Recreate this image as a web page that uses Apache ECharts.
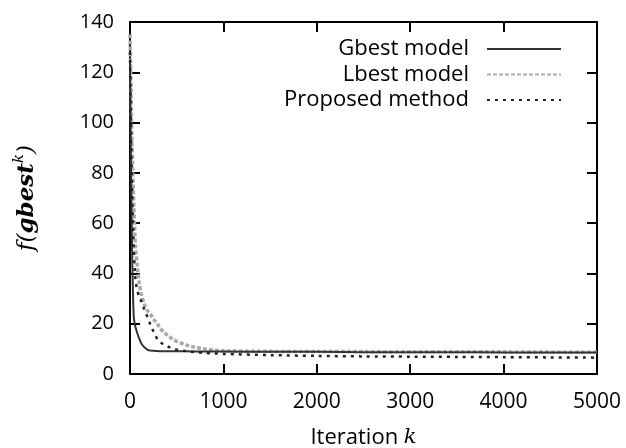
<!DOCTYPE html>
<html><head><meta charset="utf-8">
<script src="https://cdn.jsdelivr.net/npm/echarts@6/dist/echarts.min.js"></script>
<style>html,body{margin:0;padding:0;background:#fff}#c{width:626px;height:448px}</style>
</head><body><div id="c"></div>
<script>
const iterations = [0, 10, 20, 30, 40, 50, 60, 80, 100, 120, 150, 190, 225, 250, 300, 350, 400, 450, 500, 600, 700, 800, 900, 1000, 1500, 2000, 2500, 3000, 3500, 4000, 4500, 5000];
const gbest =    [125, 85, 55, 35, 23, 20, 18.5, 16, 14, 12.2, 10.8, 9.6, 9.3, 9.2, 9.1, 9.0, 9.0, 9.0, 9.0, 9.0, 8.9, 8.9, 8.9, 8.9, 8.8, 8.8, 8.7, 8.7, 8.7, 8.6, 8.6, 8.6];
const lbest =    [135, 115, 95, 80, 68, 58, 50, 42, 36, 32, 28, 25, 23.5, 22, 19.5, 17, 15.5, 14, 13, 11.6, 10.6, 10, 9.5, 9.2, 9.0, 8.9, 8.9, 8.8, 8.8, 8.8, 8.7, 8.7];
const proposed = [128, 100, 78, 62, 50, 42, 37, 33, 30.5, 29, 26, 22.3, 19, 17, 13.5, 12, 11, 10.2, 9.7, 9.1, 8.7, 8.4, 8.2, 8.0, 7.5, 7.2, 7.0, 6.9, 6.8, 6.7, 6.6, 6.5];
const seriesNames = ['Gbest model', 'Lbest model', 'Proposed method'];
const xTicks = [0, 1000, 2000, 3000, 4000, 5000];
const yTicks = [0, 20, 40, 60, 80, 100, 120, 140];

const pairs = arr => iterations.map((x, i) => [x, arr[i]]);
const font = 'Open Sans';
const chart = echarts.init(document.getElementById('c'));
const axisCommon = () => ({
  axisLine: {show: true, onZero: false, lineStyle: {color: '#000', width: 2}},
  axisTick: {show: true, inside: true, length: 10, lineStyle: {color: '#000', width: 2}},
  splitLine: {show: false}
});
chart.setOption({
  animation: false,
  grid: {left: 130, right: 29, top: 22, bottom: 74, outerBoundsMode: 'none', containLabel: false},
  legend: {
    orient: 'vertical', right: 59, top: 33, align: 'right',
    itemWidth: 74, itemHeight: 10, itemGap: 3.5,
    itemStyle: {opacity: 0},
    textStyle: {fontFamily: font, fontSize: 22, lineHeight: 22, color: '#000', padding: [0, 13, 0, 0]},
    data: seriesNames
  },
  xAxis: [
    Object.assign({type: 'value', min: 0, max: 5000, interval: 1000, position: 'bottom',
      name: 'Iteration {i|k}', nameLocation: 'middle', nameGap: 53,
      nameTextStyle: {fontFamily: font, fontSize: 22, color: '#000',
        rich: {i: {fontFamily: 'DejaVu Serif', fontStyle: 'italic', fontSize: 21, color: '#000'}}},
      axisLabel: {fontFamily: font, fontSize: 21, color: '#000', margin: 18,
        formatter: v => xTicks.includes(v) ? String(v) : ''}}, axisCommon()),
    Object.assign({type: 'value', min: 0, max: 5000, interval: 1000, position: 'top',
      axisLabel: {show: false}}, axisCommon())
  ],
  yAxis: [
    Object.assign({type: 'value', min: 0, max: 140, interval: 20, position: 'left',
      name: '{f|f(}{b|gbest}{s|k}{f|)}', nameLocation: 'middle', nameGap: 88, nameRotate: 90,
      nameTextStyle: {color: '#000', rich: {
        f: {fontFamily: 'DejaVu Serif', fontStyle: 'italic', fontSize: 23, color: '#000', lineHeight: 30},
        b: {fontFamily: 'DejaVu Serif', fontStyle: 'italic', fontWeight: 'bold', fontSize: 23, color: '#000', lineHeight: 30},
        s: {fontFamily: 'DejaVu Serif', fontStyle: 'italic', fontSize: 15, color: '#000', verticalAlign: 'top', lineHeight: 30}
      }},
      axisLabel: {fontFamily: font, fontSize: 20, color: '#000', margin: 16,
        formatter: v => yTicks.includes(v) ? String(v) : ''}}, axisCommon()),
    Object.assign({type: 'value', min: 0, max: 140, interval: 20, position: 'right',
      axisLabel: {show: false}}, axisCommon())
  ],
  series: [
    {name: seriesNames[0], type: 'line', symbol: 'none', smooth: 0.3, z: 4,
      lineStyle: {color: '#333', width: 2, type: 'solid'}, itemStyle: {color: '#333'}, data: pairs(gbest)},
    {name: seriesNames[1], type: 'line', symbol: 'none', smooth: 0.3, z: 3,
      lineStyle: {color: '#aaa', width: 3.5, type: [4, 2]}, itemStyle: {color: '#aaa'}, data: pairs(lbest)},
    {name: seriesNames[2], type: 'line', symbol: 'none', smooth: 0.3, z: 5,
      lineStyle: {color: '#222', width: 2.5, type: [3, 5]}, itemStyle: {color: '#222'}, data: pairs(proposed)}
  ]
});
</script></body></html>
